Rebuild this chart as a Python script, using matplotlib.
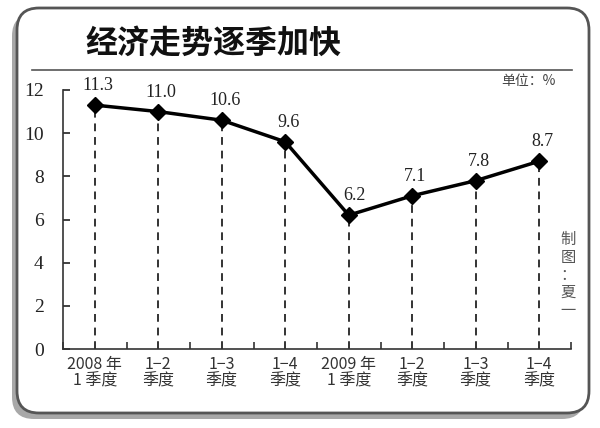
import matplotlib
matplotlib.use("Agg")
import matplotlib.pyplot as plt
from matplotlib.patches import FancyBboxPatch

plt.rcParams["font.family"] = ["Noto Sans CJK SC", "DejaVu Sans"]

# data
quarters = ["2008 年\n1 季度", "1−2\n季度", "1−3\n季度", "1−4\n季度",
            "2009 年\n1 季度", "1−2\n季度", "1−3\n季度", "1−4\n季度"]
growth = [11.3, 11.0, 10.6, 9.6, 6.2, 7.1, 7.8, 8.7]
yticks = [0, 2, 4, 6, 8, 10, 12]
title = "经济走势逐季加快"
unit = "单位：%"
credit = "制图：夏一"


def main():
    fig = plt.figure(figsize=(6, 4.28), dpi=100)

    # frame drawn in pixel coordinates on a full-figure axes
    bg = fig.add_axes([0, 0, 1, 1])
    bg.set_xlim(0, 600)
    bg.set_ylim(428, 0)
    bg.axis("off")
    shadow = FancyBboxPatch((12, 14), 572, 405, boxstyle="round,pad=0,rounding_size=22",
                            facecolor="#a8a8a8", edgecolor="none")
    box = FancyBboxPatch((17, 8), 572, 405, boxstyle="round,pad=0,rounding_size=22",
                         facecolor="white", edgecolor="#555555", linewidth=2)
    bg.add_patch(shadow)
    bg.add_patch(box)
    bg.plot([32, 572], [70, 70], color="#555555", lw=1.2)
    bg.text(85, 44, title, fontsize=23, fontweight="bold", ha="left", va="center",
            color="#111111")
    bg.text(556, 81, unit, fontsize=10, ha="right", va="center", color="#444444")
    bg.text(568, 275, "\n".join(credit), fontsize=11, ha="center", va="center",
            color="#555555", linespacing=1.05)

    ax = fig.add_axes([63 / 600, 1 - 349 / 428, 508 / 600, 259 / 428])
    ax.patch.set_alpha(0)
    x = list(range(len(growth)))

    ax.vlines(x, 0, growth, colors="#333333", linestyles=(0, (4, 3)), lw=1.4, zorder=1)
    ax.plot(x, growth, color="black", lw=2.5, marker="D", markersize=8, zorder=3)

    for xi, v in zip(x, growth):
        dx = 6 if v < 7 else 3
        ax.annotate(f"{v:.1f}", (xi, v), xytext=(dx, 11), textcoords="offset pixels",
                    ha="center", va="bottom", fontsize=13,
                    family=["Liberation Serif", "DejaVu Serif"], color="#222222")

    ax.set_xlim(-0.5, 7.5)
    ax.set_ylim(0, 12)
    ax.set_yticks(yticks)
    ax.set_yticklabels([str(t) for t in yticks], fontsize=14,
                       family=["Liberation Serif", "DejaVu Serif"])
    ax.tick_params(axis="y", direction="in", length=5, width=1.2, pad=14, colors="#222222")
    ax.set_xticks(x)
    ax.set_xticklabels(quarters, fontsize=11.5, color="#333333", linespacing=1.0)
    ax.tick_params(axis="x", which="major", length=0, pad=5)
    ax.set_xticks([i - 0.5 for i in range(len(growth) + 1)], minor=True)
    ax.tick_params(axis="x", which="minor", direction="in", length=5, width=1.2,
                   color="#333333")

    for side in ("top", "right"):
        ax.spines[side].set_visible(False)
    for side in ("left", "bottom"):
        ax.spines[side].set_linewidth(1.2)
        ax.spines[side].set_color("#333333")

    fig.savefig("out.png", dpi=100)


if __name__ == "__main__":
    main()
